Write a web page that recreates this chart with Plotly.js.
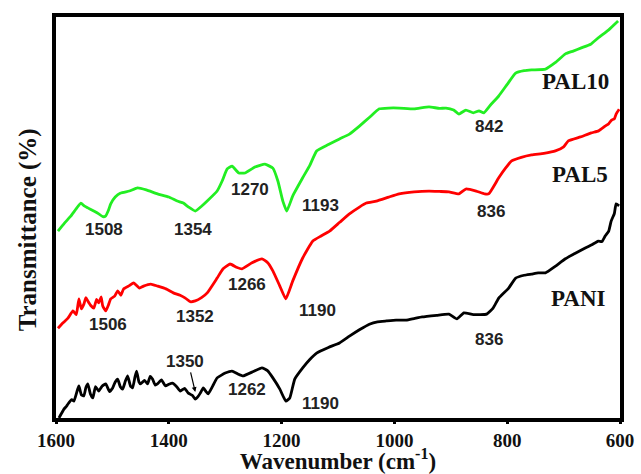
<!DOCTYPE html>
<html>
<head>
<meta charset="utf-8">
<script src="https://cdn.plot.ly/plotly-3.0.1.min.js"></script>
<style>html,body{margin:0;padding:0;background:#fff;}#chart{width:641px;height:474px;}</style>
</head>
<body>
<div id="chart"></div>
<script>
// Wavenumber (cm-1) and transmittance (arbitrary, offset) for each spectrum
const pal10Wn = [1596.5,1585.0,1573.5,1564.7,1555.9,1550.0,1543.6,1533.0,1524.2,1517.0,1511.8,1507.0,1503.0,1495.0,1485.4,1470.0,1455.4,1440.0,1420.1,1400.0,1385.0,1374.2,1365.0,1353.1,1342.0,1331.9,1314.3,1305.4,1296.6,1287.8,1276.0,1264.9,1247.2,1229.6,1215.5,1206.6,1197.8,1190.8,1180.2,1162.6,1150.0,1137.9,1117.0,1097.3,1079.7,1062.0,1044.0,1026.7,1010.0,991.5,965.0,938.6,920.0,908.6,895.0,885.6,873.3,860.0,850.0,841.5,830.0,815.0,800.0,785.0,770.0,756.8,732.1,715.0,696.8,683.0,668.6,652.0,638.6,620.0,603.4];
const pal10T  = [46.6,48.6,50.4,52.1,53.6,52.9,52.4,51.6,50.9,50.2,50.4,51.8,53.4,55.1,56.1,56.6,57.4,56.9,55.9,55.1,54.1,53.6,52.6,51.6,52.8,54.1,56.6,59.1,62.1,62.8,61.1,61.1,62.6,63.3,62.3,59.1,54.1,51.6,55.4,59.9,63.0,66.6,68.2,69.6,70.8,72.8,75.0,77.1,77.3,77.3,77.1,77.6,77.2,77.3,76.8,75.8,76.8,76.1,76.6,76.1,78.0,80.3,83.2,86.0,86.6,86.8,87.0,88.6,90.8,91.5,92.3,93.2,94.8,96.8,99.0];

const pal5Wn = [1596.5,1587.0,1578.8,1570.0,1564.0,1559.4,1555.0,1550.6,1547.0,1543.6,1538.0,1533.0,1528.0,1524.2,1520.0,1517.1,1511.8,1507.0,1503.0,1496.0,1490.6,1485.0,1480.1,1470.0,1462.4,1452.0,1444.8,1432.0,1420.1,1405.0,1391.9,1380.0,1370.7,1362.0,1353.1,1342.0,1331.9,1314.3,1303.7,1291.4,1280.0,1270.2,1252.5,1234.9,1225.0,1215.5,1203.1,1192.5,1180.2,1162.6,1145.0,1130.0,1115.0,1097.0,1079.7,1062.0,1049.7,1032.0,1010.0,991.5,965.0,938.6,920.0,903.3,885.6,873.3,855.0,840.0,832.7,815.0,803.0,792.1,775.0,756.8,735.0,714.5,700.0,691.6,670.0,651.0,638.0,626.3,620.0,615.0,610.0,606.9,601.5];
const pal5T  = [22.4,23.8,24.9,26.7,25.8,29.7,27.2,28.4,30.0,29.2,28.0,27.4,29.6,28.7,30.2,27.9,26.7,28.2,29.7,30.4,31.7,30.6,32.2,33.0,33.7,32.4,32.9,33.4,32.9,32.2,31.2,30.6,29.9,29.0,29.2,30.0,31.2,34.9,37.2,38.4,37.6,37.2,38.7,39.7,38.8,36.7,32.9,29.7,34.2,39.9,44.1,45.4,46.6,48.8,50.9,52.6,53.6,54.1,55.1,55.9,56.4,56.6,56.5,56.4,55.9,57.1,56.6,55.9,55.9,59.9,62.3,64.1,65.0,65.6,66.0,66.6,67.6,69.1,70.1,71.1,71.6,72.8,73.4,74.3,74.6,75.8,77.0];

const paniWn = [1594.7,1585.9,1581.0,1578.8,1572.0,1568.2,1562.0,1559.4,1555.0,1550.6,1547.0,1543.6,1539.0,1534.7,1530.0,1524.2,1518.0,1511.8,1505.0,1499.5,1495.0,1490.6,1486.0,1481.8,1477.0,1473.0,1468.0,1464.2,1460.0,1457.1,1453.0,1450.1,1443.0,1437.7,1433.0,1428.9,1424.0,1420.1,1413.0,1406.0,1400.0,1393.6,1386.0,1379.5,1372.0,1365.4,1358.0,1353.1,1348.0,1344.2,1338.9,1334.0,1330.1,1322.0,1314.3,1300.0,1287.8,1278.0,1268.4,1250.0,1234.9,1225.0,1215.5,1203.1,1192.5,1185.5,1176.7,1162.6,1150.0,1137.9,1117.0,1097.3,1079.7,1062.0,1044.4,1030.0,1014.4,997.0,979.1,965.0,950.9,925.0,903.3,889.2,876.8,860.0,836.3,825.0,815.0,797.4,785.0,770.0,756.8,745.0,732.1,715.0,696.8,680.0,661.6,650.0,638.6,632.0,626.3,620.0,615.7,610.0,606.9,601.6];
const paniT  = [0.0,2.2,3.0,3.5,4.6,4.2,7.0,8.0,5.8,5.5,7.6,8.5,6.0,5.0,7.8,6.7,8.0,8.5,6.6,7.5,9.0,9.7,7.8,7.2,9.2,10.5,8.0,7.5,10.2,11.7,9.0,8.5,9.4,8.5,10.4,9.7,8.2,8.5,9.5,8.0,8.4,8.7,7.8,6.7,7.4,6.2,5.6,4.7,5.4,6.2,7.5,6.6,6.0,8.0,10.0,11.2,11.7,11.0,10.5,11.6,12.5,11.8,10.0,7.2,4.2,5.0,9.7,12.5,14.6,16.2,17.6,18.7,20.4,22.0,23.4,24.0,24.2,24.4,24.4,24.8,25.2,25.6,25.9,24.7,26.2,25.8,25.9,27.4,29.9,32.4,34.9,35.6,35.9,36.2,36.2,37.8,39.7,41.0,42.4,43.2,44.1,44.0,45.4,46.6,49.1,51.0,53.4,52.9];

const xTicks = [1600,1400,1200,1000,800,600];

const sans = "Liberation Sans, Arial, sans-serif";
const serif = "Liberation Serif, Times New Roman, serif";

const lineStyle = (c) => ({color: c, width: 2.8, shape: "spline", smoothing: 0.4});
const traces = [
  {x: paniWn, y: paniT, name: "PANI", mode: "lines", line: lineStyle("#000000")},
  {x: pal5Wn, y: pal5T, name: "PAL5", mode: "lines", line: lineStyle("#ff0000")},
  {x: pal10Wn, y: pal10T, name: "PAL10", mode: "lines", line: lineStyle("#22ee22")}
];

function num(t, x, y) {
  return {text: "<b>" + t + "</b>", x: x, y: y, xref: "x", yref: "y", showarrow: false,
          font: {family: sans, size: 17, color: "#222"}};
}
function lab(t, x, y) {
  return {text: "<b>" + t + "</b>", x: x, y: y, xref: "x", yref: "y", showarrow: false,
          font: {family: serif, size: 23, color: "#111"}};
}

const annotations = [
  num("1508", 1515.3, 47.1), num("1354", 1356.6, 47.1), num("1270", 1256.1, 57.1), num("1193", 1131.0, 52.9),
  num("1506", 1508.3, 23.4), num("1352", 1353.1, 25.4), num("1266", 1261.3, 33.4), num("1190", 1136.0, 26.7),
  num("1350", 1370.7, 14.1), num("1262", 1261.3, 7.2), num("1190", 1131.0, 3.7),
  num("842", 832.7, 72.8), num("836", 829.2, 51.4), num("836", 832.7, 19.7),
  lab("PAL10", 679.3, 84.0), lab("PAL5", 670.5, 60.8), lab("PANI", 674.0, 29.7),
  {text: "", x: 1353.1, y: 6.5, xref: "x", yref: "y", showarrow: true, ax: -5, ay: -21,
   arrowhead: 2, arrowsize: 0.8, arrowwidth: 1.2, arrowcolor: "#000"},
  {text: "<b>Transmittance (%)</b>", xref: "paper", yref: "paper", x: -0.05, y: 0.47, textangle: -90,
   xanchor: "center", yanchor: "middle",
   showarrow: false, font: {family: serif, size: 25, color: "#111"}}
];

const layout = {
  width: 641, height: 474,
  margin: {l: 56, r: 21, t: 17, b: 56},
  paper_bgcolor: "#fff", plot_bgcolor: "#fff",
  showlegend: false,
  xaxis: {
    range: [1600, 600], tickvals: xTicks, ticktext: xTicks.map(String),
    ticks: "outside", ticklen: 2, tickwidth: 3, tickcolor: "#000",
    showline: true, linewidth: 4, linecolor: "#000", mirror: true,
    showgrid: false, zeroline: false,
    tickfont: {family: serif, size: 19, color: "#111", weight: "bold"},
    title: {text: "<b>Wavenumber (cm<sup>-1</sup>)</b>", font: {family: serif, size: 23, color: "#111"}, standoff: 11}
  },
  yaxis: {
    range: [0, 100], showticklabels: false, ticks: "",
    showline: true, linewidth: 4, linecolor: "#000", mirror: true,
    showgrid: false, zeroline: false
  },
  annotations: annotations
};

Plotly.newPlot("chart", traces, layout, {displayModeBar: false, staticPlot: true});
</script>
</body>
</html>
